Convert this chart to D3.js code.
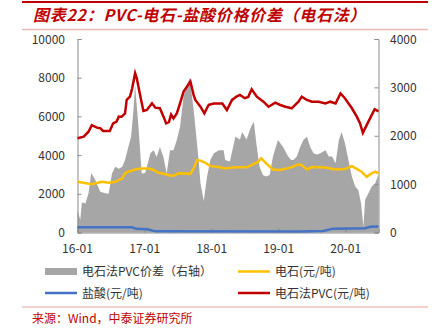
<!DOCTYPE html>
<html><head><meta charset="utf-8">
<script src="https://cdn.jsdelivr.net/npm/d3@7"></script>
<style>
html,body{margin:0;padding:0;background:#fff;}
svg{display:block;}
text{font-family:"Noto Sans CJK SC","Noto Sans",sans-serif;}
</style></head>
<body><svg id="c" width="435" height="332"></svg>
<script>
const titleText = "图表22：PVC-电石-盐酸价格价差（电石法）";
const sourceText = "来源：Wind，中泰证券研究所";
const xTickLabels = ["16-01","17-01","18-01","19-01","20-01"];
const leftTicks = [0,2000,4000,6000,8000,10000];
const rightTicks = [0,1000,2000,3000,4000];
const legendLabels = ["电石法PVC价差（右轴）","电石(元/吨)","盐酸(元/吨)","电石法PVC(元/吨)"];

const spreadDates = ["2016-01-01","2016-01-16","2016-01-25","2016-02-13","2016-03-01","2016-03-16","2016-04-07","2016-05-04","2016-06-01","2016-06-19","2016-07-07","2016-07-25","2016-08-13","2016-09-01","2016-09-16","2016-10-04","2016-10-19","2016-11-01","2016-11-10","2016-11-28","2016-12-16","2017-01-04","2017-02-01","2017-02-19","2017-03-07","2017-03-25","2017-04-13","2017-05-01","2017-05-19","2017-06-07","2017-06-25","2017-07-13","2017-08-01","2017-08-19","2017-09-04","2017-09-25","2017-10-04","2017-10-22","2017-11-01","2017-11-19","2017-12-07","2017-12-25","2018-01-13","2018-02-10","2018-03-07","2018-03-16","2018-04-10","2018-04-28","2018-05-10","2018-06-04","2018-06-16","2018-07-10","2018-08-04","2018-08-19","2018-09-01","2018-09-19","2018-10-07","2018-10-25","2018-11-13","2018-12-01","2018-12-28","2019-01-25","2019-02-22","2019-03-10","2019-03-22","2019-04-10","2019-04-28","2019-05-16","2019-06-04","2019-06-22","2019-07-10","2019-07-28","2019-08-16","2019-09-13","2019-10-01","2019-10-19","2019-11-07","2019-11-25","2019-12-10","2019-12-28","2020-01-16","2020-02-04","2020-02-22","2020-03-10","2020-03-25","2020-04-07","2020-04-16","2020-05-04","2020-05-22","2020-06-10","2020-06-28"];
const spreadValues = [465,260,620,600,810,1230,1085,844,810,800,1220,1360,1320,1360,1500,1770,1980,2530,3050,2190,1220,1230,1640,1700,1560,1770,1560,1220,1700,1700,1910,2190,2810,3050,3200,2530,2190,1500,1020,650,1160,1500,1640,1700,1700,1500,1470,1770,1980,1920,2080,1920,2190,2290,1850,1360,1190,1160,1190,1570,1910,1770,1570,1500,1500,1570,1770,1910,1980,1770,1640,1610,1640,1700,1570,1570,1430,1910,2080,1850,1500,1160,950,880,600,120,670,810,950,1020,1200];

const carbideDates = ["2016-01-01","2016-03-19","2016-05-13","2016-06-19","2016-07-25","2016-09-01","2016-09-16","2016-10-04","2016-11-10","2016-12-16","2017-01-22","2017-02-19","2017-03-16","2017-04-22","2017-05-28","2017-06-16","2017-07-04","2017-09-07","2017-09-25","2017-10-13","2017-11-01","2017-11-28","2017-12-25","2018-02-01","2018-03-16","2018-04-10","2018-05-25","2018-07-10","2018-08-07","2018-09-10","2018-09-28","2018-10-25","2018-12-01","2019-01-07","2019-02-07","2019-03-13","2019-04-19","2019-05-07","2019-06-04","2019-07-01","2019-09-13","2019-11-07","2019-12-28","2020-02-04","2020-03-01","2020-03-28","2020-04-25","2020-05-22","2020-06-10","2020-06-28"];
const carbideValues = [2620,2500,2620,2570,2620,2800,3060,3140,3260,3310,3310,3230,3090,3020,2920,2970,3060,3030,3310,3740,3710,3600,3430,3400,3310,3350,3370,3370,3480,3650,3830,3570,3260,3230,3290,3380,3520,3480,3260,3380,3360,3260,3280,3430,3290,3140,2880,3060,3140,3060];

const hclDates = ["2016-01-01","2016-10-25","2016-11-16","2017-01-16","2017-03-01","2019-05-01","2019-09-01","2019-10-25","2020-04-16","2020-05-16","2020-06-28"];
const hclValues = [270,270,190,170,60,50,80,200,220,300,310];

const pvcDates = ["2016-01-01","2016-02-04","2016-03-01","2016-03-19","2016-04-16","2016-05-04","2016-05-19","2016-06-25","2016-07-13","2016-08-01","2016-08-13","2016-08-28","2016-09-16","2016-09-25","2016-10-13","2016-10-25","2016-11-10","2016-11-19","2016-12-07","2016-12-25","2017-01-13","2017-02-10","2017-02-28","2017-03-25","2017-04-13","2017-04-28","2017-05-13","2017-05-25","2017-06-07","2017-06-25","2017-07-13","2017-08-01","2017-08-19","2017-09-07","2017-09-25","2017-10-04","2017-11-01","2017-11-22","2017-12-16","2018-01-13","2018-02-28","2018-03-25","2018-04-22","2018-05-16","2018-06-04","2018-07-01","2018-07-19","2018-08-07","2018-09-04","2018-10-10","2018-11-07","2018-12-13","2019-01-10","2019-02-07","2019-03-13","2019-04-19","2019-05-07","2019-06-04","2019-07-01","2019-08-07","2019-09-13","2019-10-10","2019-11-07","2019-12-04","2019-12-28","2020-02-04","2020-03-01","2020-03-19","2020-04-04","2020-04-25","2020-05-13","2020-06-07","2020-06-28"];
const pvcValues = [4870,4950,5210,5550,5420,5390,5250,5250,5640,5730,5990,5980,6150,6850,7020,7450,8230,7970,7100,6280,6330,6680,6450,6420,6000,5640,5700,6100,5900,6150,6680,7280,7530,7800,7100,6850,6500,6160,6600,6670,6670,6330,6850,7020,7110,6940,7000,7400,7020,6760,6500,6710,6590,6500,6420,6760,7020,6850,6760,6760,6670,6760,6670,7190,6940,6420,6000,5650,5150,5560,5900,6370,6260];

const parse = d3.timeParse("%Y-%m-%d");
const zip = (ds, vs) => ds.map((d,i)=>({date:parse(d), v:vs[i]}));
const spread = zip(spreadDates, spreadValues);
const carbide = zip(carbideDates, carbideValues);
const hcl = zip(hclDates, hclValues);
const pvc = zip(pvcDates, pvcValues);

const svg = d3.select("#c");
const red = "#c00000";
const M = {left:77.5, right:378.5, top:39, bottom:232.5};

// header
svg.append("line").attr("x1",22).attr("x2",428).attr("y1",2).attr("y2",2).attr("stroke","#c00000").attr("stroke-width",2);
svg.append("text").attr("x",33).attr("y",21).attr("fill",red).attr("font-size",16).attr("font-weight","bold").attr("font-style","italic").attr("letter-spacing",0.7).text(titleText);
svg.append("line").attr("x1",22).attr("x2",428).attr("y1",29.5).attr("y2",29.5).attr("stroke","#f2b8b8").attr("stroke-width",1.5);

const x = d3.scaleTime().domain([parse("2016-01-01"), parse("2020-06-28")]).range([M.left, M.right]);
const yL = d3.scaleLinear().domain([0,10000]).range([M.bottom, M.top]);
const yR = d3.scaleLinear().domain([0,4000]).range([M.bottom, M.top]);

// area
svg.append("path").datum(spread)
  .attr("d", d3.area().x(d=>x(d.date)).y0(yR(0)).y1(d=>yR(d.v)))
  .attr("fill","#a6a6a6");

// axes
const axisColor = "#8c8c8c";
const gL = svg.append("g").attr("transform",`translate(${M.left},0)`)
  .call(d3.axisRight(yL).tickValues(leftTicks).tickSize(4).tickFormat(""));
const gR = svg.append("g").attr("transform",`translate(${M.right},0)`)
  .call(d3.axisLeft(yR).tickValues(rightTicks).tickSize(4).tickFormat(""));
const xTickDates = xTickLabels.map(s=>parse("20"+s.slice(0,2)+"-"+s.slice(3)+"-01"));
const gX = svg.append("g").attr("transform",`translate(0,${M.bottom})`)
  .call(d3.axisTop(x).tickValues(xTickDates).tickSize(4).tickFormat(""));
[gL,gR,gX].forEach(g=>{g.selectAll("path,line").attr("stroke",axisColor);});

// tick labels
svg.append("g").selectAll("text").data(leftTicks).join("text")
  .attr("x",65).attr("y",d=>yL(d)+4.5).attr("text-anchor","end")
  .attr("font-size",12).attr("fill","#333").text(d=>d);
svg.append("g").selectAll("text").data(rightTicks).join("text")
  .attr("x",390).attr("y",d=>yR(d)+4.5).attr("text-anchor","start")
  .attr("font-size",12).attr("fill","#333").text(d=>d);
svg.append("g").selectAll("text").data(xTickLabels).join("text")
  .attr("x",(d,i)=>x(xTickDates[i])).attr("y",253).attr("text-anchor","middle")
  .attr("font-size",12).attr("fill","#333").text(d=>d);

// lines
const line = d3.line().x(d=>x(d.date)).y(d=>yL(d.v));
svg.append("path").datum(hcl).attr("d",line).attr("fill","none").attr("stroke","#4472c4").attr("stroke-width",2.5);
svg.append("path").datum(carbide).attr("d",line).attr("fill","none").attr("stroke","#ffc000").attr("stroke-width",2.5);
svg.append("path").datum(pvc).attr("d",line).attr("fill","none").attr("stroke","#c00000").attr("stroke-width",2.5);

// legend
const lg = svg.append("g");
const items = [
  {x:45,y:271.5,type:"rect",color:"#a6a6a6",label:legendLabels[0]},
  {x:238,y:271.5,type:"line",color:"#ffc000",label:legendLabels[1]},
  {x:45,y:293,type:"line",color:"#4472c4",label:legendLabels[2]},
  {x:238,y:293,type:"line",color:"#c00000",label:legendLabels[3]}
];
items.forEach(it=>{
  if(it.type==="rect") lg.append("rect").attr("x",it.x).attr("y",it.y-3.5).attr("width",32).attr("height",7).attr("fill",it.color);
  else lg.append("line").attr("x1",it.x).attr("x2",it.x+32).attr("y1",it.y).attr("y2",it.y).attr("stroke",it.color).attr("stroke-width",2.5);
  lg.append("text").attr("x",it.x+37).attr("y",it.y+4.5).attr("font-size",12).attr("fill","#333").text(it.label);
});

// footer
svg.append("line").attr("x1",22).attr("x2",428).attr("y1",307).attr("y2",307).attr("stroke","#f2a0a0").attr("stroke-width",1);
svg.append("text").attr("x",32).attr("y",323).attr("fill",red).attr("font-size",12).text(sourceText);
</script></body></html>
